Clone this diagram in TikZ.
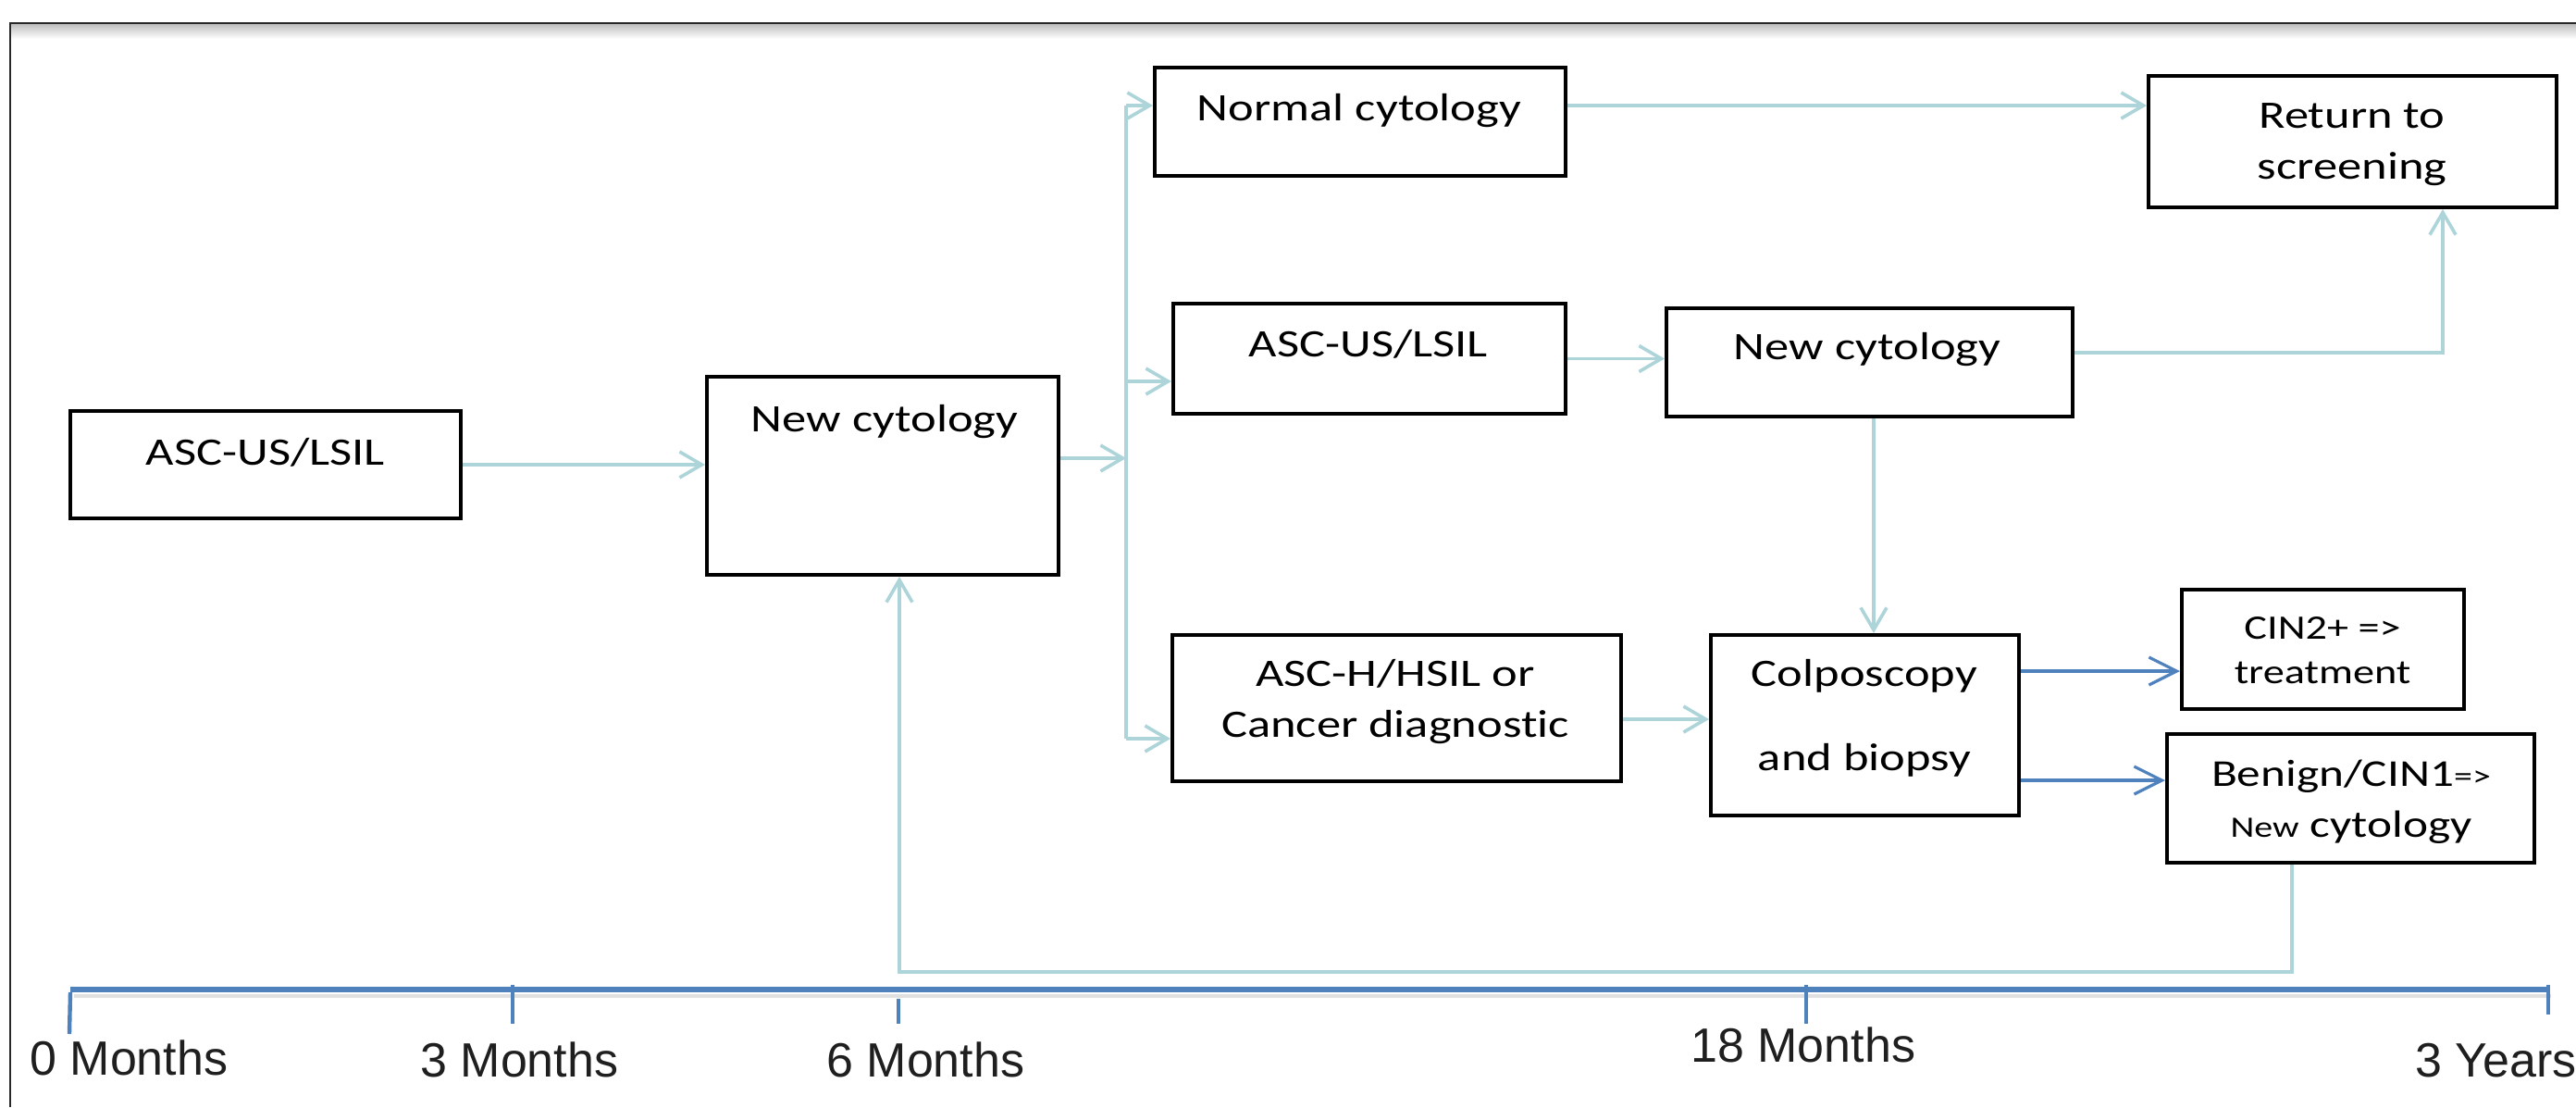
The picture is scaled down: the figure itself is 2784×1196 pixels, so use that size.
\documentclass[tikz,border=0pt]{standalone}
\usepackage{fontspec}
\usetikzlibrary{arrows.meta,calc}
\newfontfamily\boxfont[FakeStretch=1.25,Ligatures=NoCommon]{Carlito}
\newfontfamily\labfont{Liberation Sans}
\definecolor{linkc}{RGB}{172,212,217}
\definecolor{bluec}{RGB}{79,129,189}
\definecolor{framec}{RGB}{40,40,40}
\tikzset{
  box/.style={draw=black, line width=2pt, inner sep=0pt},
  txt/.style={font=\boxfont\fontsize{21pt}{25pt}\selectfont, inner sep=0pt, anchor=base, text=black},
  smalltxt/.style={font=\boxfont\fontsize{18.5pt}{22pt}\selectfont, inner sep=0pt, anchor=base, text=black},
  conn/.style={draw=linkc, line width=1.8pt, -{Straight Barb[length=12pt,width=14pt,line width=1.8pt]}},
  connline/.style={draw=linkc, line width=1.8pt},
  bconn/.style={draw=bluec, line width=1.6pt, -{Straight Barb[length=15pt,width=15pt,line width=1.6pt]}},
  tline/.style={draw=bluec, line width=3.4pt},
  tickmark/.style={draw=bluec, line width=2.2pt},
  lab/.style={font=\labfont\fontsize{26pt}{30pt}\selectfont, inner sep=0pt, anchor=base west, text=black!88}
}
\begin{document}
\begin{tikzpicture}[x=0.5pt,y=-0.5pt]
\useasboundingbox (0,0) rectangle (2784,1196);
% frame
\shade[top color=black!25, bottom color=white] (11,26) rectangle (2784,42);
\draw[framec, line width=1.2pt] (11,1196) -- (11,25) -- (2784,25);

% boxes
\node[box, minimum width=211pt, minimum height=58pt] (A) at (287,502) {};
\node[box, minimum width=190pt, minimum height=107pt] (B) at (954,514) {};
\node[box, minimum width=222pt, minimum height=58.5pt] (C) at (1470,131.5) {};
\node[box, minimum width=220.5pt, minimum height=71pt] (D) at (2542.5,153) {};
\node[box, minimum width=212pt, minimum height=59.5pt] (E) at (1480,387.5) {};
\node[box, minimum width=219.5pt, minimum height=58.5pt] (F) at (2020.5,391.5) {};
\node[box, minimum width=242.5pt, minimum height=79pt] (G) at (1509.5,765) {};
\node[box, minimum width=166.5pt, minimum height=97.5pt] (H) at (2015.5,783.5) {};
\node[box, minimum width=152.5pt, minimum height=64.5pt] (I) at (2510.5,701.5) {};
\node[box, minimum width=198.5pt, minimum height=69.5pt] (J) at (2540.5,862.5) {};

% texts
\node[txt] (At) at (287,502) {ASC-US/LSIL};
\node[txt] (Bt) at (956,466) {New cytology};
\node[txt] (Ct) at (1469,130) {Normal cytology};
\node[txt] (Dt1) at (2542,138) {Return to};
\node[txt] (Dt2) at (2542,193) {screening};
\node[txt] (Et) at (1479,385) {ASC-US/LSIL};
\node[txt] (Ft) at (2018,388) {New cytology};
\node[txt] (Gt1) at (1508,741) {ASC-H/HSIL or};
\node[txt] (Gt2) at (1508,796) {Cancer diagnostic};
\node[txt] (Ht1) at (2015,741) {Colposcopy};
\node[txt] (Ht2) at (2015,832) {and biopsy};
\node[smalltxt] (It1) at (2510,690) {CIN2+ =>};
\node[smalltxt] (It2) at (2510,738) {treatment};
\node[txt] (Jt1) at (2541,849) {\fontsize{20.5pt}{24pt}\selectfont Benign/CIN1{\fontsize{16pt}{19pt}\selectfont=>}};
\node[txt] (Jt2) at (2541,904) {{\fontsize{16pt}{19pt}\selectfont New} \fontsize{20.5pt}{24pt}\selectfont cytology};

% connector coordinates
\coordinate (sp) at (1217,495);
\coordinate (sT) at (1217,114);
\coordinate (sM) at (1217,412);
\coordinate (sB) at (1217,798);
\coordinate (fd) at (2640,381);
\coordinate (fh) at (2025,450);
\coordinate (gh) at (1760,777);
\coordinate (hi) at (2190,725);
\coordinate (hj) at (2190,843);
\coordinate (jb1) at (2477,1050);
\coordinate (jb2) at (972,1050);

% connectors
\draw[conn] (A.east) -- (B.west |- A.east);
\draw[conn] (B.east |- sp) -- (sp);
\draw[connline] (sT) -- (sB);
\draw[conn] (sT) -- (C.west |- sT);
\draw[conn] (sM) -- (E.west |- sM);
\draw[conn] (sB) -- (G.west |- sB);
\draw[conn] (C.east |- sT) -- (D.west |- sT);
\draw[conn] (E.east) -- (F.west |- E.east);
\draw[conn] (F.east |- fd) -- (fd) -- (fd |- D.south);
\draw[conn] (F.south -| fh) -- (fh |- H.north);
\draw[conn] (G.east |- gh) -- (H.west |- gh);
\draw[bconn] (H.east |- hi) -- (I.west |- hi);
\draw[bconn] (H.east |- hj) -- (J.west |- hj);
\draw[conn] (J.south -| jb1) -- (jb1) -- (jb2) -- (jb2 |- B.south);

% timeline
\coordinate (t0) at (76,1069);
\coordinate (tE) at (2753,1069);
\draw[black!12, line width=2pt] (80,1076) -- (2757,1076);
\draw[tline] (t0) -- (tE);
\coordinate (k0a) at (76,1072);  \coordinate (k0b) at (75,1117);
\coordinate (k3a) at (554,1064); \coordinate (k3b) at (554,1106);
\coordinate (k6a) at (971,1079); \coordinate (k6b) at (971,1106);
\coordinate (k18a) at (1952,1064); \coordinate (k18b) at (1952,1106);
\coordinate (kYa) at (2754,1064); \coordinate (kYb) at (2754,1096);
\draw[tickmark] (k0a) -- (k0b);
\draw[tickmark] (k3a) -- (k3b);
\draw[tickmark] (k6a) -- (k6b);
\draw[tickmark] (k18a) -- (k18b);
\draw[tickmark] (kYa) -- (kYb);

\node[lab] (L0) at (32,1161) {0 Months};
\node[lab] (L3) at (454,1163) {3 Months};
\node[lab] (L6) at (893,1163) {6 Months};
\node[lab] (L18) at (1827,1147) {18 Months};
\node[lab] (LY) at (2610,1163) {3 Years};
\end{tikzpicture}
\end{document}
